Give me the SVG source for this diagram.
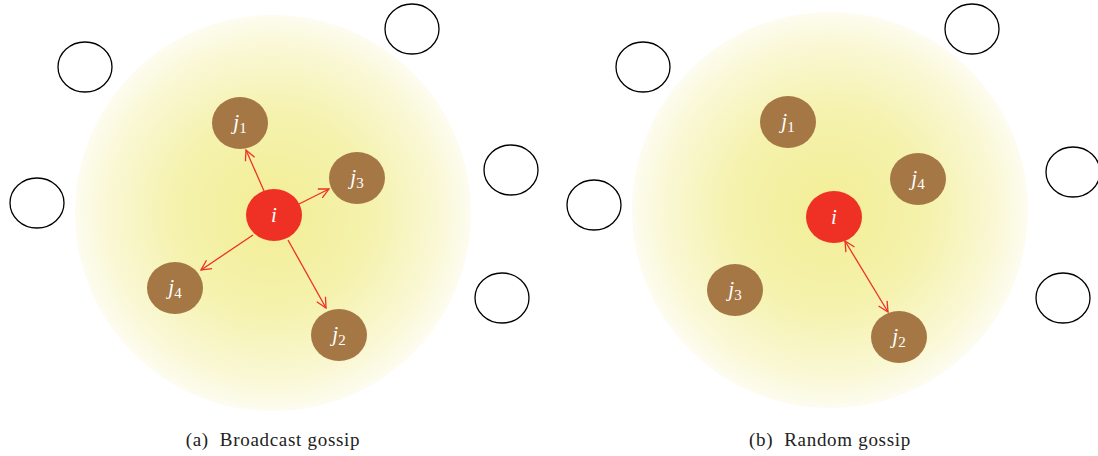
<svg xmlns="http://www.w3.org/2000/svg" width="1098" height="456" viewBox="0 0 1098 456">
<defs>
<radialGradient id="glow" cx="0.5" cy="0.5" r="0.5">
<stop offset="0" stop-color="#F2EE95"/>
<stop offset="0.5" stop-color="#F5F2AE"/>
<stop offset="0.85" stop-color="#FAF8D6"/>
<stop offset="1" stop-color="#FDFCF0"/>
</radialGradient>
<marker id="ah" viewBox="0 0 12 12" refX="11" refY="6" markerWidth="12" markerHeight="12" markerUnits="userSpaceOnUse" orient="auto-start-reverse">
<path d="M1,1 L11,6 L1,11" fill="none" stroke="#EE3124" stroke-width="1.3"/>
</marker>
</defs>
<style>
.empty{fill:#fff;stroke:#000;stroke-width:1.3}
.peer{fill:#A57744}
.src{fill:#EE3124}
.lbl{font-family:"Liberation Serif",serif;font-style:italic;font-size:21px;fill:#fff;text-anchor:middle}
.sub{font-style:normal;font-size:15px}
.cap{font-family:"Liberation Serif",serif;font-size:19px;letter-spacing:0.7px;fill:#222;text-anchor:middle}
.arr{stroke:#EE3124;stroke-width:1.3;fill:none}
</style>
<rect width="1098" height="456" fill="#fff"/>
<circle cx="273" cy="213" r="198" fill="url(#glow)"/>
<circle cx="830" cy="210" r="198" fill="url(#glow)"/>

<g id="empty-a">
<ellipse class="empty" cx="85" cy="67" rx="27" ry="25"/>
<ellipse class="empty" cx="412" cy="29" rx="27" ry="25"/>
<ellipse class="empty" cx="37" cy="203" rx="27" ry="25"/>
<ellipse class="empty" cx="511" cy="170" rx="27" ry="25"/>
<ellipse class="empty" cx="502" cy="298" rx="27" ry="25"/>
</g>
<g id="empty-b">
<ellipse class="empty" cx="643" cy="67" rx="27" ry="25"/>
<ellipse class="empty" cx="972" cy="29" rx="27" ry="25"/>
<ellipse class="empty" cx="594" cy="205" rx="27" ry="25"/>
<ellipse class="empty" cx="1073" cy="172" rx="27" ry="25"/>
<ellipse class="empty" cx="1063" cy="298" rx="27" ry="25"/>
</g>

<g id="connectors">
<line class="arr" x1="264" y1="191" x2="246" y2="150" marker-end="url(#ah)"/>
<line class="arr" x1="299" y1="204" x2="329" y2="189" marker-end="url(#ah)"/>
<line class="arr" x1="253" y1="235" x2="201" y2="270" marker-end="url(#ah)"/>
<line class="arr" x1="288" y1="240" x2="326" y2="308" marker-end="url(#ah)"/>
<line class="arr" x1="845" y1="241" x2="888" y2="312" marker-start="url(#ah)" marker-end="url(#ah)"/>
</g>

<g id="a-j1"><ellipse class="peer" cx="240" cy="123" rx="28" ry="26"/><text class="lbl" x="240" y="129">j<tspan class="sub" dy="4">1</tspan></text></g>
<g id="a-j3"><ellipse class="peer" cx="357" cy="178" rx="28" ry="26"/><text class="lbl" x="357" y="184">j<tspan class="sub" dy="4">3</tspan></text></g>
<g id="a-i"><ellipse class="src" cx="274" cy="215" rx="28" ry="26"/><text class="lbl" x="274" y="222">i</text></g>
<g id="a-j4"><ellipse class="peer" cx="175" cy="288" rx="28" ry="26"/><text class="lbl" x="175" y="294">j<tspan class="sub" dy="4">4</tspan></text></g>
<g id="a-j2"><ellipse class="peer" cx="339" cy="335" rx="28" ry="26"/><text class="lbl" x="339" y="341">j<tspan class="sub" dy="4">2</tspan></text></g>

<g id="b-j1"><ellipse class="peer" cx="788" cy="122" rx="28" ry="26"/><text class="lbl" x="788" y="128">j<tspan class="sub" dy="4">1</tspan></text></g>
<g id="b-j4"><ellipse class="peer" cx="918" cy="179" rx="28" ry="26"/><text class="lbl" x="918" y="185">j<tspan class="sub" dy="4">4</tspan></text></g>
<g id="b-i"><ellipse class="src" cx="834" cy="217" rx="28" ry="26"/><text class="lbl" x="834" y="224">i</text></g>
<g id="b-j3"><ellipse class="peer" cx="735" cy="290" rx="28" ry="26"/><text class="lbl" x="735" y="296">j<tspan class="sub" dy="4">3</tspan></text></g>
<g id="b-j2"><ellipse class="peer" cx="899" cy="337" rx="28" ry="26"/><text class="lbl" x="899" y="343">j<tspan class="sub" dy="4">2</tspan></text></g>

<text class="cap" x="273" y="446" xml:space="preserve">(a)  Broadcast gossip</text>
<text class="cap" x="830" y="446" xml:space="preserve">(b)  Random gossip</text>
</svg>
